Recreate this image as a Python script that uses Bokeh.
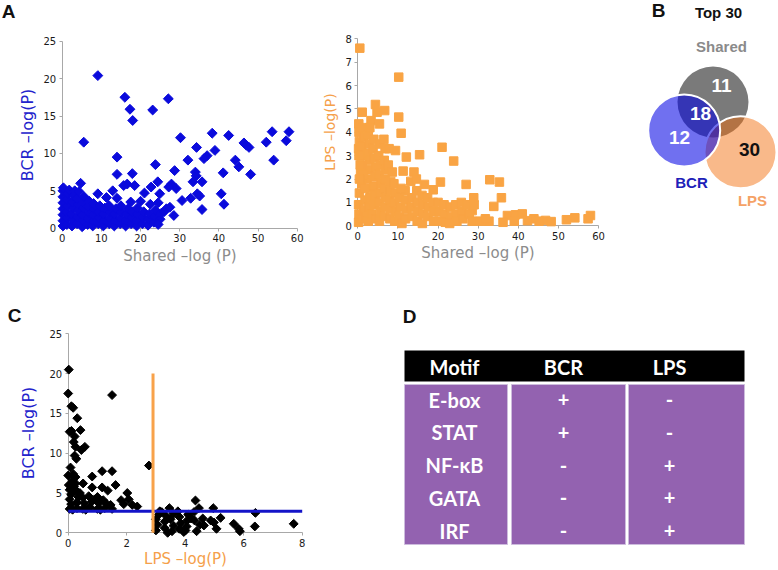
from bokeh.plotting import figure
from bokeh.models import Range1d, FixedTicker, LinearAxis
from bokeh.embed import file_html
from bokeh.resources import INLINE
from bokeh.core.properties import value

# ---------------- data ----------------
# Panel A (left): Shared -log(P) vs BCR -log(P)
a_shared = [
    9.1, 16.0, 27.1, 17.3, 23.1, 18.0, 5.5, 14.0, 30.2, 38.3, 42.5, 53.6, 57.9, 57.2, 52.1, 46.4, 47.0, 47.7, 34.3, 39.0,
    37.0, 36.2, 32.1, 44.2, 54.0, 23.8, 45.1, 28.7, 41.1, 34.0, 48.1, 14.0, 17.9, 34.2, 16.6, 18.5, 15.7, 27.9, 29.1, 27.2,
    24.4, 33.4, 35.7, 4.7, 9.1, 12.9, 21.0, 22.7, 24.9, 34.5, 35.1, 40.6, 41.3, 30.6, 32.8, 35.7, 28.5, 24.5, 14.0, 11.3,
    0.2, 0.2, 0.2, 0.2, 0.2, 0.2, 0.2, 0.3, 1.2, 1.3, 1.1, 1.4, 1.2, 1.5, 1.8, 2.5, 2.6, 2.4, 2.8, 2.6, 2.9, 3.2,
    3.8, 3.9, 4.0, 4.1, 3.8, 4.3, 5.1, 5.3, 5.2, 5.5, 5.3, 5.6, 6.5, 6.6, 6.8, 6.5, 6.9, 7.8, 8.0, 7.9, 8.2, 8.0,
    9.2, 9.4, 9.3, 9.6, 10.5, 10.7, 10.6, 10.9, 12.0, 12.1, 12.3, 12.0, 13.3, 13.5, 13.4, 13.7, 14.8, 14.9, 15.1, 15.0,
    16.2, 16.3, 16.5, 16.8, 17.5, 17.6, 17.8, 17.9, 19.0, 19.1, 19.3, 19.2, 20.0, 20.5, 20.6, 20.8,
    21.9, 22.0, 22.3, 22.5, 23.4, 23.6, 23.8, 25.0, 25.3, 26.0, 26.6, 27.5, 24.5,
]
a_bcr = [
    20.4, 17.5, 17.3, 15.9, 15.8, 14.4, 11.5, 9.5, 12.1, 12.7, 12.4, 12.9, 12.9, 11.7, 11.5, 11.4, 11.1, 10.8, 10.8, 10.4,
    9.7, 9.3, 9.1, 9.1, 9.1, 8.5, 8.2, 7.7, 7.4, 7.5, 7.2, 7.2, 7.3, 7.0, 5.9, 5.7, 5.7, 5.9, 5.3, 5.5,
    6.2, 6.2, 6.2, 6.0, 4.6, 5.0, 4.7, 5.5, 4.6, 4.6, 4.3, 4.6, 3.2, 3.7, 4.0, 2.5, 1.7, 3.4, 4.0, 4.1,
    0.3, 1.0, 1.8, 2.6, 3.4, 4.2, 5.0, 5.4, 0.5, 1.4, 2.2, 3.0, 3.8, 4.6, 5.1, 0.3, 1.1, 1.9, 2.7, 3.5, 4.3, 5.0,
    0.6, 1.5, 2.4, 3.2, 4.0, 4.9, 0.2, 1.0, 1.8, 2.7, 3.5, 4.2, 0.5, 1.3, 2.1, 2.9, 3.6, 0.3, 1.0, 1.8, 2.6, 3.3,
    0.6, 1.4, 2.2, 3.0, 0.3, 1.1, 1.9, 2.7, 0.6, 1.4, 2.2, 3.0, 0.3, 1.1, 1.9, 2.6, 0.6, 1.4, 2.2, 3.0,
    0.3, 1.1, 1.9, 2.6, 3.5, 0.6, 1.4, 2.2, 0.3, 1.1, 1.9, 2.7, 3.6, 0.6, 1.4, 2.2,
    0.4, 1.2, 1.9, 3.2, 0.8, 1.6, 2.4, 1.2, 2.0, 2.2, 2.6, 2.8, 0.5,
]

# Panel A (right): Shared -log(P) vs LPS -log(P)
b_shared = [
    0.5, 10.2, 4.4, 6.7, 1.1, 4.8, 10.2, 0.25, 5.4, 3.3, 10.8, 21.0, 9.4, 12.1, 15.4, 23.9, 11.3, 14.0, 0.7, 20.6,
    32.9, 35.3, 35.8, 27.0, 28.9, 16.6, 18.8, 33.9, 28.5, 37.3, 39.3, 41.0, 43.9, 46.8, 48.2, 52.0, 54.1, 57.4, 58.0, 30.6,
    32.7, 36.2, 39.0, 42.3, 45.2, 31.8,
    0.2, 0.3, 0.2, 0.4, 0.3, 0.2, 0.4, 0.3, 1.0, 1.2, 1.5, 1.3, 1.2, 1.5, 1.8, 2.0,
    2.5, 2.8, 2.6, 3.0, 2.3, 2.8, 3.0, 3.3, 3.0, 2.8, 2.6, 3.5,
    3.8, 4.0, 4.2, 4.5, 4.3, 4.0, 4.3, 4.1, 4.5,
    5.2, 5.5, 5.6, 5.3, 5.8, 5.5, 5.3, 5.7, 5.4,
    6.5, 6.8, 6.6, 7.0, 6.8, 6.6, 7.0, 6.8, 6.6,
    7.8, 8.2, 8.0, 7.9, 8.2, 8.0, 9.0, 9.3, 9.1, 9.5, 9.2,
    10.4, 10.6, 10.3, 11.0, 11.8, 12.0, 12.2, 11.9, 13.2, 13.5, 13.3, 13.6,
    14.6, 14.7, 14.8, 15.0, 14.8, 16.0, 16.2, 16.3, 16.1, 17.4, 17.6, 17.5,
    18.8, 19.0, 18.9, 20.0, 20.2, 20.3, 21.5, 21.6, 21.8, 23.0, 23.2, 22.9,
    24.4, 24.5, 24.7, 25.8, 26.0, 26.2, 27.2, 27.8, 28.5, 29.0,
    1.0, 1.4, 1.1, 1.7, 0.4, 0.6, 7.6, 8.6, 10.8,
]
b_lps = [
    7.6, 6.36, 5.19, 4.93, 4.86, 4.86, 4.65, 4.36, 4.36, 4.5, 3.96, 3.36, 3.22, 2.94, 3.04, 2.77, 2.34, 2.3, 2.3, 1.87,
    1.97, 1.87, 1.2, 1.77, 1.2, 1.77, 1.54, 0.83, 0.65, 0.44, 0.47, 0.51, 0.3, 0.23, 0.18, 0.26, 0.34, 0.3, 0.44, 0.2,
    0.2, 0.15, 0.2, 0.22, 0.2, 0.3,
    0.15, 0.5, 0.9, 1.4, 3.0, 3.3, 3.6, 4.0, 3.4, 3.0, 3.8, 4.2, 0.3, 0.7, 1.1, 0.4,
    3.1, 3.5, 3.9, 4.2, 2.0, 2.4, 2.8, 1.6, 1.2, 0.8, 0.2, 0.5,
    3.3, 3.7, 2.9, 2.5, 2.1, 1.7, 1.3, 0.9, 0.3,
    3.0, 3.5, 2.6, 2.2, 1.8, 1.4, 1.0, 0.6, 0.2,
    3.7, 3.3, 2.8, 2.4, 2.0, 1.6, 1.2, 0.8, 0.4,
    3.3, 1.9, 1.5, 1.1, 0.7, 0.3, 1.8, 1.4, 1.0, 0.6, 0.2,
    1.2, 0.8, 0.4, 0.1, 1.5, 1.1, 0.7, 0.3, 1.9, 1.2, 0.8, 0.4,
    2.0, 1.5, 1.0, 0.6, 0.2, 1.3, 0.9, 0.5, 0.1, 1.2, 0.8, 0.4,
    1.0, 0.6, 0.2, 1.0, 0.6, 0.2, 0.9, 0.5, 0.15, 0.8, 0.4, 0.1,
    0.9, 0.5, 0.2, 1.0, 0.6, 0.3, 0.9, 0.5, 0.2, 0.9,
    1.8, 2.2, 2.6, 1.6, 2.0, 2.6, 2.6, 2.3, 1.6,
]

# Panel C: LPS -log(P) vs BCR -log(P)
c_lps = [
    0.02, 0.0, 1.5, 0.11, 0.17, 0.31, 0.05, 0.11, 0.42, 0.22, 0.19, 0.25, 0.57, 0.45, 0.22, 0.28, 0.08, 0.17, 0.0, 2.76,
    0.82, 1.16, 1.5, 1.62, 1.16, 1.35, 0.82, 0.51, 2.02, 1.81, 2.07, 2.19, 2.36, 1.9, 0.25, 0.02,
    0.05, 0.1, 0.05, 0.1, 0.05, 0.3, 0.3, 0.35, 0.3, 0.5, 0.55, 0.5, 0.75, 0.8, 0.7, 1.0, 1.05, 1.0, 1.25, 1.3,
    1.5, 1.45, 0.15, 0.6, 1.1, 0.9, 1.2, 0.4, 0.2, 0.15, 0.25,
    4.35, 4.47, 4.96, 3.46, 3.13, 7.71, 6.4, 6.38, 5.21, 4.87, 4.98, 5.07, 5.66, 5.83, 5.87, 4.64, 4.32, 4.39, 4.01, 4.07,
    3.0, 3.05, 3.0, 3.1, 3.3, 3.3, 3.35, 3.55, 3.6, 3.5, 3.6, 3.8, 3.85, 3.8, 4.05, 4.1, 4.2, 3.2, 3.75, 4.3,
    4.5, 4.6, 3.95, 3.4,
]
c_bcr = [
    20.5, 17.5, 17.3, 15.9, 15.7, 14.4, 12.7, 12.8, 12.9, 12.1, 11.4, 10.8, 10.8, 10.4, 9.7, 9.3, 8.2, 7.4, 7.2, 8.45,
    7.07, 7.74, 7.74, 6.0, 5.7, 5.3, 5.7, 6.2, 5.0, 4.1, 4.2, 3.5, 3.3, 3.6, 6.2, 6.0,
    3.0, 3.6, 4.2, 4.8, 5.4, 3.1, 3.8, 4.5, 5.2, 3.0, 3.7, 4.4, 3.2, 3.9, 4.6, 3.0, 3.7, 4.5, 3.1, 3.7,
    3.0, 3.5, 2.9, 2.9, 2.9, 4.2, 4.1, 5.0, 5.8, 6.6, 7.0,
    4.06, 3.1, 3.1, 3.1, 2.7, 1.13, 2.5, 0.8, 1.88, 1.55, 1.3, 0.5, 1.13, 0.5, 0.2, 0.92, 1.55, 0.2, 0.29, 1.55,
    0.3, 1.0, 1.7, 2.3, 0.6, 1.4, 2.1, 0.2, 0.9, 1.7, 2.4, 0.5, 1.2, 2.0, 0.8, 2.3, 1.8, 2.6, 2.7, 2.6,
    1.0, 1.8, 0.1, 0.0,
]
c_bcr_cutoff = 2.7
c_lps_cutoff = 2.9
c_lps_cutoff_top = 20

# Panel B: Venn counts (Top 30)
venn_title = "Top 30"
venn_sets = ["Shared", "BCR", "LPS"]
venn_counts = [11, 18, 12, 30]          # Shared only, Shared∩BCR, BCR only, LPS
venn_count_colors = ["white", "white", "white", "#111111"]

# Panel D: motif table
table_header = ["Motif", "BCR", "LPS"]
motifs = ["E-box", "STAT", "NF-κB", "GATA", "IRF"]
bcr_sign = ["+", "+", "-", "-", "-"]
lps_sign = ["-", "-", "+", "+", "+"]

# ---------------- styling / layout ----------------
W, H = 778, 570
BLUE = "#0A0ADC"
ORANGE = "#F9A444"
GRAY_LABEL = "#8C8C8C"
BLUE_LABEL = "#2323CC"
ORANGE_LABEL = "#F5A04A"
AXIS_GRAY = "#A8A8A8"


def x_range_for(px_zero, px_end, v_end):
    k = (px_end - px_zero) / v_end
    return Range1d(-px_zero / k, (W - px_zero) / k)


def y_range_for(py_zero, py_end, v_end):
    k = (py_zero - py_end) / v_end
    return Range1d(-(H - py_zero) / k, py_zero / k)


# one canvas; the default ranges are page pixels (y downwards)
p = figure(width=W, height=H, x_range=Range1d(0, W), y_range=Range1d(H, 0),
           output_backend="svg", toolbar_location=None,
           x_axis_type=None, y_axis_type=None, min_border=0)
p.title.visible = False
p.outline_line_color = None
p.xgrid.visible = False
p.ygrid.visible = False

p.extra_x_ranges = {
    "a1x": x_range_for(61.7, 296.7, 60),
    "a2x": x_range_for(357.3, 598.0, 60),
    "cx": x_range_for(67.7, 301.7, 8),
}
p.extra_y_ranges = {
    "a1y": y_range_for(227.7, 40.7, 25),
    "a2y": y_range_for(225.3, 38.3, 8),
    "cy": y_range_for(532.3, 333.3, 25),
}


def style_axis(ax, label, color, size, standoff):
    ax.axis_line_color = AXIS_GRAY
    ax.major_tick_line_color = AXIS_GRAY
    ax.major_tick_out = 3
    ax.major_tick_in = 0
    ax.minor_tick_line_color = None
    ax.major_label_text_font = "DejaVu Sans"
    ax.major_label_text_font_size = "10px"
    ax.major_label_text_color = "#1a1a1a"
    ax.major_label_standoff = 3
    ax.axis_label = label
    ax.axis_label_text_font = "DejaVu Sans"
    ax.axis_label_text_font_style = "normal"
    ax.axis_label_text_color = color
    ax.axis_label_text_font_size = size
    ax.axis_label_standoff = standoff
    ax.level = "underlay"


def add_axes(xn, yn, xticks, yticks, xlabel, xcolor, xsize, xstand, ylabel, ycolor, ysize, ystand):
    xa = LinearAxis(x_range_name=xn, y_range_name=yn, fixed_location=0,
                    bounds=(xticks[0], xticks[-1]), ticker=FixedTicker(ticks=xticks))
    style_axis(xa, xlabel, xcolor, xsize, xstand)
    p.add_layout(xa, "below")
    ya = LinearAxis(x_range_name=xn, y_range_name=yn, fixed_location=0,
                    bounds=(yticks[0], yticks[-1]), ticker=FixedTicker(ticks=yticks))
    style_axis(ya, ylabel, ycolor, ysize, ystand)
    p.add_layout(ya, "left")


# ---------------- Panel A left ----------------
add_axes("a1x", "a1y", [0, 10, 20, 30, 40, 50, 60], [0, 5, 10, 15, 20, 25],
         "Shared –log (P)", GRAY_LABEL, "15px", 1, "BCR –log(P)", BLUE_LABEL, "16px", 4)
p.scatter(a_shared, a_bcr, x_range_name="a1x", y_range_name="a1y", marker="square",
          angle=0.785398, size=7, fill_color=BLUE, line_color=BLUE)

# ---------------- Panel A right ----------------
add_axes("a2x", "a2y", [0, 10, 20, 30, 40, 50, 60], [0, 1, 2, 3, 4, 5, 6, 7, 8],
         "Shared –log (P)", GRAY_LABEL, "15px", 1, "LPS –log(P)", ORANGE_LABEL, "14px", 4)
p.scatter(b_shared, b_lps, x_range_name="a2x", y_range_name="a2y", marker="square",
          size=8.5, fill_color=ORANGE, line_color=ORANGE)

# ---------------- Panel C ----------------
add_axes("cx", "cy", [0, 2, 4, 6, 8], [0, 5, 10, 15, 20, 25],
         "LPS –log(P)", ORANGE_LABEL, "15px", 0, "BCR –log(P)", BLUE_LABEL, "16px", 9)
p.scatter(c_lps, c_bcr, x_range_name="cx", y_range_name="cy", marker="square",
          angle=0.785398, size=6.3, fill_color="black", line_color="black")
p.segment(x0=[0], y0=[c_bcr_cutoff], x1=[8], y1=[c_bcr_cutoff], x_range_name="cx",
          y_range_name="cy", line_color="#1414C8", line_width=3)
p.segment(x0=[c_lps_cutoff], y0=[0], x1=[c_lps_cutoff], y1=[c_lps_cutoff_top],
          x_range_name="cx", y_range_name="cy", line_color="#F8A24A", line_width=3)

# ---------------- Panel B (Venn) ----------------
p.circle(x=[712.5], y=[101.5], radius=35.5, fill_color="#7A7A7A", line_color=None)
p.circle(x=[740], y=[151.7], radius=36, fill_color="#F26D0B", fill_alpha=0.48,
         line_color="white", line_width=2)
p.circle(x=[683.7], y=[130], radius=36, fill_color="#0000E4", fill_alpha=0.56,
         line_color="white", line_width=2)
p.text(x=[721, 700, 679, 749], y=[85, 113, 137, 149], text=[str(v) for v in venn_counts],
       text_color=venn_count_colors, text_font=value("Liberation Sans"), text_font_style="bold",
       text_font_size=value("19px"), text_align="center", text_baseline="middle")
p.text(x=[721, 691, 752], y=[46, 182, 200], text=venn_sets,
       text_color=["#8A8A8A", "#2020B8", "#F5A266"], text_font=value("Liberation Sans"),
       text_font_style="bold", text_font_size=value("15px"), text_align="center",
       text_baseline="middle")
p.text(x=[718], y=[12], text=[venn_title], text_color="#111111", text_font=value("Liberation Sans"),
       text_font_style="bold", text_font_size=value("15px"), text_align="center",
       text_baseline="middle")

# ---------------- Panel D (table) ----------------
col_left = [404, 511, 628]
col_right = [507, 625, 744]
col_text_x = [454, 563, 669]
p.quad(left=[col_left[0]], right=[col_right[-1]], top=[350], bottom=[381],
       fill_color="black", line_color=None)
p.quad(left=col_left, right=col_right, top=[384] * 3, bottom=[544] * 3,
       fill_color="#9362B0", line_color="#CDBCDD", line_width=1)
p.text(x=col_text_x, y=[366] * 3, text=table_header, text_color="white",
       text_font=value("Lato"), text_font_style="bold", text_font_size=value("20px"),
       text_align="center", text_baseline="middle")
row_y = [399 + i * 32.75 for i in range(len(motifs))]
for ci, col in enumerate([motifs, bcr_sign, lps_sign]):
    p.text(x=[col_text_x[ci]] * len(col), y=row_y, text=col, text_color="white",
           text_font=value("Lato"), text_font_style="bold", text_font_size=value("20px"),
           text_align="center", text_baseline="middle")

# ---------------- panel letters ----------------
p.text(x=[8, 658, 14, 409], y=[11, 10, 315, 315.5], text=["A", "B", "C", "D"],
       text_color="#111111", text_font=value("Liberation Sans"), text_font_style="bold",
       text_font_size=value("19px"), text_align="center", text_baseline="middle")

open("out.html", "w").write(file_html(p, INLINE))
